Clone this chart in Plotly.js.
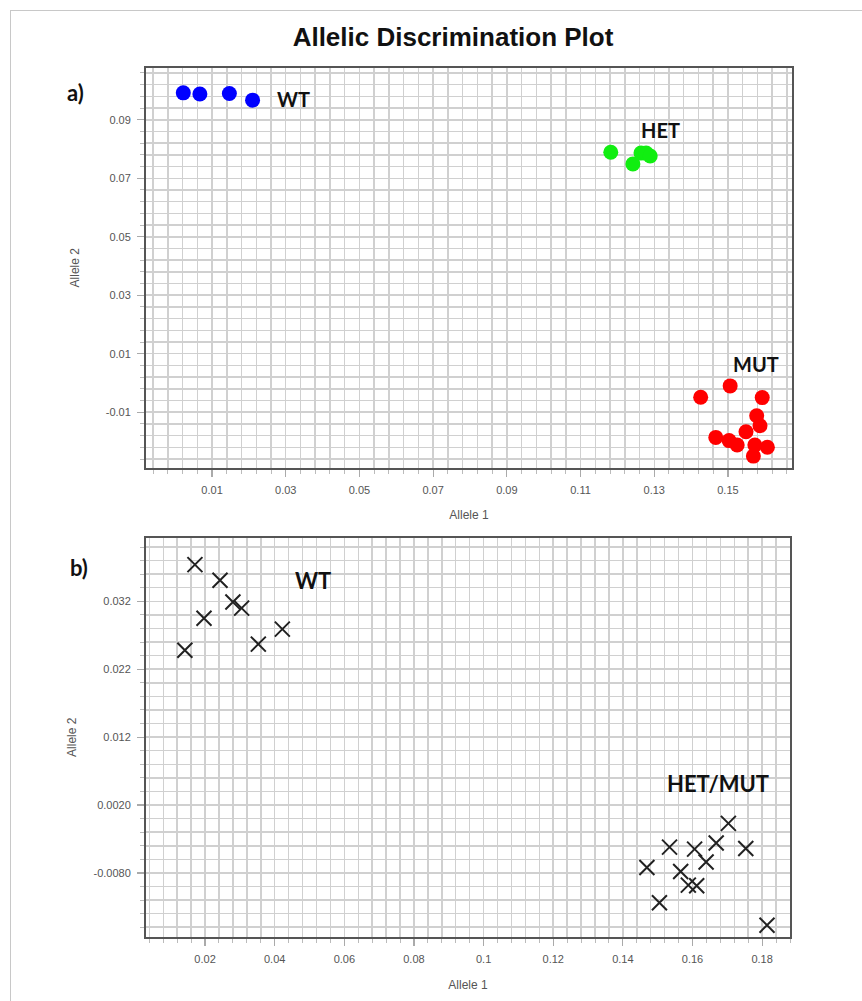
<!DOCTYPE html>
<html>
<head>
<meta charset="utf-8">
<script src="https://cdn.plot.ly/plotly-3.0.1.min.js"></script>
<style>
  html, body { margin: 0; padding: 0; background: #fff; }
  #wrap { position: relative; width: 862px; height: 1001px; }
  #chart { width: 862px; height: 1001px; }
  #frame { position: absolute; left: 10px; top: 10px; width: 860px; height: 1000px;
           border-left: 1px solid #c8c8c8; border-top: 1px solid #c8c8c8; pointer-events: none; }
</style>
</head>
<body>
<div id="wrap"><div id="chart"></div><div id="frame"></div></div>
<script>
// ---- Panel a) data ----
const wtX  = [0.0022, 0.0067, 0.0147, 0.0210];
const wtY  = [0.0992, 0.0988, 0.0990, 0.0967];
const hetX = [0.1182, 0.1242, 0.1264, 0.1278, 0.1289];
const hetY = [0.0789, 0.0749, 0.0786, 0.0786, 0.0776];
const mutX = [0.1426, 0.1506, 0.1593, 0.1578, 0.1587, 0.1549, 0.1467, 0.1503, 0.1525, 0.1573, 0.1607, 0.1569];
const mutY = [-0.0049, -0.0010, -0.0050, -0.0112, -0.0146, -0.0167, -0.0186, -0.0197, -0.0212, -0.0212, -0.0220, -0.0250];

// ---- Panel b) data ----
const wt2X = [0.0171, 0.0243, 0.0280, 0.0305, 0.0197, 0.0142, 0.0353, 0.0422];
const wt2Y = [0.0374, 0.0351, 0.0319, 0.0310, 0.0295, 0.0248, 0.0257, 0.0279];
const hm2X = [0.1703, 0.1668, 0.1534, 0.1606, 0.1753, 0.1639, 0.1469, 0.1566, 0.1588, 0.1612, 0.1505, 0.1814];
const hm2Y = [-0.0007, -0.0036, -0.0042, -0.0045, -0.0044, -0.0064, -0.0072, -0.0078, -0.0098, -0.0099, -0.0124, -0.0157];

// ---- Tick labels ----
const aXticks = [0.01, 0.03, 0.05, 0.07, 0.09, 0.11, 0.13, 0.15];
const aXtext  = ['0.01', '0.03', '0.05', '0.07', '0.09', '0.11', '0.13', '0.15'];
const aYticks = [-0.01, 0.01, 0.03, 0.05, 0.07, 0.09];
const aYtext  = ['-0.01', '0.01', '0.03', '0.05', '0.07', '0.09'];
const bXticks = [0.02, 0.04, 0.06, 0.08, 0.10, 0.12, 0.14, 0.16, 0.18];
const bXtext  = ['0.02', '0.04', '0.06', '0.08', '0.1', '0.12', '0.14', '0.16', '0.18'];
const bYticks = [-0.008, 0.002, 0.012, 0.022, 0.032];
const bYtext  = ['-0.0080', '0.0020', '0.012', '0.022', '0.032'];

const W = 862, H = 1001;
const px = v => v / W;
const py = v => 1 - v / H;

const tickFont = { family: 'Liberation Sans, Arial, sans-serif', size: 11, color: '#555' };
const titleFont = { family: 'Liberation Sans, Arial, sans-serif', size: 12, color: '#555' };
const gridC = '#d0d0d0';

function axis(extra) {
  return Object.assign({
    showline: true, linecolor: '#555', linewidth: 2, mirror: true,
    showgrid: true, gridcolor: gridC, gridwidth: 1.5, zeroline: false,
    ticks: 'outside', ticklen: 7, tickwidth: 1.2, tickcolor: '#aaa',
    tickfont: tickFont, tickmode: 'array', fixedrange: true, ticklabelstandoff: 4,
  }, extra);
}

const traces = [
  { x: wtX, y: wtY, type: 'scatter', mode: 'markers', name: 'WT', xaxis: 'x', yaxis: 'y',
    marker: { color: '#0000ff', size: 15 } },
  { x: hetX, y: hetY, type: 'scatter', mode: 'markers', name: 'HET', xaxis: 'x', yaxis: 'y',
    marker: { color: '#11ee11', size: 15 } },
  { x: mutX, y: mutY, type: 'scatter', mode: 'markers', name: 'MUT', xaxis: 'x', yaxis: 'y',
    marker: { color: '#ff0000', size: 15 } },
  { x: wt2X, y: wt2Y, type: 'scatter', mode: 'markers', name: 'WT', xaxis: 'x2', yaxis: 'y2',
    marker: { symbol: 'x-thin-open', size: 15, color: '#222', line: { color: '#222', width: 2 } } },
  { x: hm2X, y: hm2Y, type: 'scatter', mode: 'markers', name: 'HET/MUT', xaxis: 'x2', yaxis: 'y2',
    marker: { symbol: 'x-thin-open', size: 15, color: '#222', line: { color: '#222', width: 2 } } },
];

const labelFont = (s) => ({ family: 'Lato, Open Sans, sans-serif', size: s, color: '#111', weight: 'bold' });

const layout = {
  width: W, height: H,
  margin: { l: 0, r: 0, t: 0, b: 0 },
  paper_bgcolor: '#fff', plot_bgcolor: '#fff',
  showlegend: false,
  title: {
    text: 'Allelic Discrimination Plot',
    x: px(453), xanchor: 'center', y: py(37), yanchor: 'middle',
    font: { family: 'Liberation Sans, Arial, sans-serif', size: 26, color: '#111', weight: 'bold' }
  },
  xaxis: axis({
    domain: [px(146), px(792)], range: [-0.00792, 0.16738], anchor: 'y',
    tickvals: aXticks, ticktext: aXtext,
    minor: { tick0: 0.01, dtick: 0.004, showgrid: true, gridcolor: gridC, gridwidth: 1.5,
             ticks: 'outside', ticklen: 4, tickcolor: '#bbb', tickwidth: 1 },
    title: { text: 'Allele 1', font: titleFont, standoff: 16 }
  }),
  yaxis: axis({
    domain: [py(467.5), py(68)], range: [-0.0289, 0.1077], anchor: 'x',
    tickvals: aYticks, ticktext: aYtext,
    minor: { tick0: 0.01, dtick: 0.004, showgrid: true, gridcolor: gridC, gridwidth: 1.5,
             ticks: 'outside', ticklen: 4, tickcolor: '#bbb', tickwidth: 1 },
    title: { text: 'Allele 2', font: titleFont, standoff: 24 }
  }),
  xaxis2: axis({
    domain: [px(146), px(790)], range: [0.00304, 0.1880], anchor: 'y2',
    tickvals: bXticks, ticktext: bXtext,
    minor: { tick0: 0, dtick: 0.004, showgrid: true, gridcolor: gridC, gridwidth: 1.5,
             ticks: 'outside', ticklen: 4, tickcolor: '#bbb', tickwidth: 1 },
    title: { text: 'Allele 1', font: titleFont, standoff: 16 }
  }),
  yaxis2: axis({
    domain: [py(937), py(537.5)], range: [-0.01744, 0.0414], anchor: 'x2',
    tickvals: bYticks, ticktext: bYtext,
    minor: { tick0: 0.002, dtick: 0.002, showgrid: true, gridcolor: gridC, gridwidth: 1.5,
             ticks: 'outside', ticklen: 4, tickcolor: '#bbb', tickwidth: 1 },
    title: { text: 'Allele 2', font: titleFont, standoff: 14 }
  }),
  annotations: [
    { text: 'a)', xref: 'paper', yref: 'paper', x: px(75.5), y: py(92), xanchor: 'center', yanchor: 'middle',
      showarrow: false, font: labelFont(22) },
    { text: 'b)', xref: 'paper', yref: 'paper', x: px(78.5), y: py(567.5), xanchor: 'center', yanchor: 'middle',
      showarrow: false, font: labelFont(22) },
    { text: 'WT', xref: 'x', yref: 'y', x: 0.0320, y: 0.0970, xanchor: 'center', yanchor: 'middle',
      showarrow: false, font: labelFont(20) },
    { text: 'HET', xref: 'x', yref: 'y', x: 0.1316, y: 0.0865, xanchor: 'center', yanchor: 'middle',
      showarrow: false, font: labelFont(20) },
    { text: 'MUT', xref: 'x', yref: 'y', x: 0.1577, y: 0.0066, xanchor: 'center', yanchor: 'middle',
      showarrow: false, font: labelFont(20) },
    { text: 'WT', xref: 'x2', yref: 'y2', x: 0.0510, y: 0.0351, xanchor: 'center', yanchor: 'middle',
      showarrow: false, font: labelFont(22) },
    { text: 'HET/MUT', xref: 'x2', yref: 'y2', x: 0.1674, y: 0.0052, xanchor: 'center', yanchor: 'middle',
      showarrow: false, font: labelFont(22) },
  ]
};

Plotly.newPlot('chart', traces, layout, { displayModeBar: false, staticPlot: true });
</script>
</body>
</html>
